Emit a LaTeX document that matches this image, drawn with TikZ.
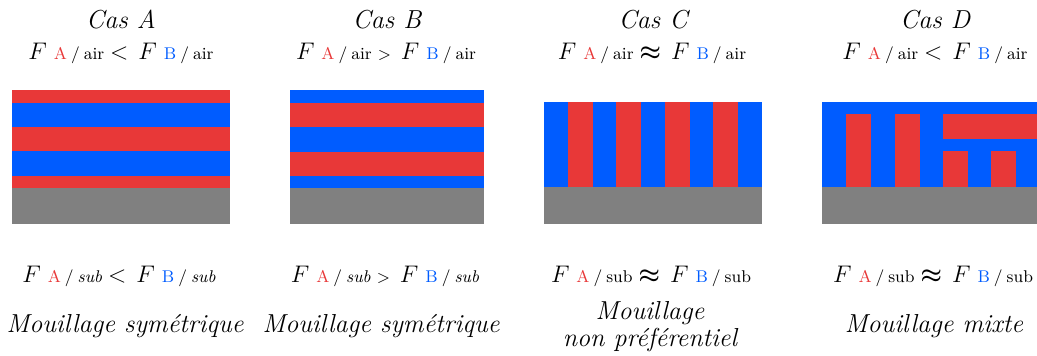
\documentclass[tikz,border=0pt]{standalone}
\usepackage{amsmath,amssymb}
\usepackage{xcolor}
\usepackage{tikz}

\definecolor{redA}{RGB}{232,56,56}
\definecolor{blueB}{RGB}{0,92,255}
\definecolor{subgray}{RGB}{128,128,128}

% F_{X / milieu} written the way the figure prints it
\newcommand{\Fx}[3]{$F$\hspace{3.5pt}{\fontsize{8.5}{9}\selectfont\textcolor{#2}{#1}\hspace{2pt}/\hspace{2pt}#3}}
\newcommand{\relsmall}[1]{{\fontsize{8.5}{9}\selectfont$#1$}}
\newcommand{\rel}[1]{\hspace{3pt}#1\hspace{5pt}}

\begin{document}
\begin{tikzpicture}[
  x=0.5pt,y=-0.5pt,
  lbl/.style={anchor=base,inner sep=0pt,font=\fontsize{13}{13.5}\selectfont,align=center},
  cas/.style={lbl,font=\fontsize{13}{13.5}\selectfont\itshape}
]
\useasboundingbox (0,0) rectangle (1037,356);

% Cas A : couches horizontales, A en surface
\fill[redA] (12,90) rectangle (230,188);
\foreach \ya/\yb in {103/127,151/176}
  \fill[blueB] (12,\ya) rectangle (230,\yb);
\fill[subgray] (12,188) rectangle (230,224);

% Cas B : couches horizontales, B en surface
\fill[blueB] (290,90) rectangle (484,188);
\foreach \ya/\yb in {103/127,152/176}
  \fill[redA] (290,\ya) rectangle (484,\yb);
\fill[subgray] (290,188) rectangle (484,224);

% Cas C : lamelles verticales
\fill[blueB] (544,102) rectangle (762,187);
\foreach \xa in {568,616,665,713}
  \fill[redA] (\xa,102) rectangle (\xa+25,187);
\fill[subgray] (544,187) rectangle (762,224);

% Cas D : mouillage mixte
\fill[blueB] (822,102) rectangle (1037,187);
\foreach \xa in {846,895}
  \fill[redA] (\xa,114) rectangle (\xa+25,187);
\fill[redA] (943,114) rectangle (1037,139);
\foreach \xa in {943,991}
  \fill[redA] (\xa,151) rectangle (\xa+25,188);
\fill[subgray] (822,187) rectangle (1037,224);

% titres
\node[cas] (titleA) at (121,29) {Cas A};
\node[cas] (titleB) at (387,29) {Cas B};
\node[cas] (titleC) at (653,29) {Cas C};
\node[cas] (titleD) at (935,29) {Cas D};

% energies avec l'air
\node[lbl] (airA) at (121,60) {\Fx{A}{redA}{air}\rel{$<$}\Fx{B}{blueB}{air}};
\node[lbl] (airB) at (386,60) {\Fx{A}{redA}{air}\rel{\relsmall{>}}\Fx{B}{blueB}{air}};
\node[lbl] (airC) at (652,60) {\Fx{A}{redA}{air}\rel{$\boldsymbol{\approx}$}\Fx{B}{blueB}{air}};
\node[lbl] (airD) at (935,60) {\Fx{A}{redA}{air}\rel{$<$}\Fx{B}{blueB}{air}};

% energies avec le substrat
\node[lbl] (subA) at (119,283) {\Fx{A}{redA}{\textit{sub}}\rel{$<$}\Fx{B}{blueB}{\textit{sub}}};
\node[lbl] (subB) at (385,283) {\Fx{A}{redA}{\textit{sub}}\rel{\relsmall{>}}\Fx{B}{blueB}{\textit{sub}}};
\node[lbl] (subC) at (651,283) {\Fx{A}{redA}{sub}\rel{$\boldsymbol{\approx}$}\Fx{B}{blueB}{sub}};
\node[lbl] (subD) at (933,283) {\Fx{A}{redA}{sub}\rel{$\boldsymbol{\approx}$}\Fx{B}{blueB}{sub}};

% type de mouillage
\node[cas] (wetA) at (125,333) {Mouillage symétrique};
\node[cas] (wetB) at (381,333) {Mouillage symétrique};
\node[cas,anchor=north] (wetC) at (650,301) {Mouillage\\non préférentiel};
\node[cas] (wetD) at (934,333) {Mouillage mixte};
\end{tikzpicture}
\end{document}
